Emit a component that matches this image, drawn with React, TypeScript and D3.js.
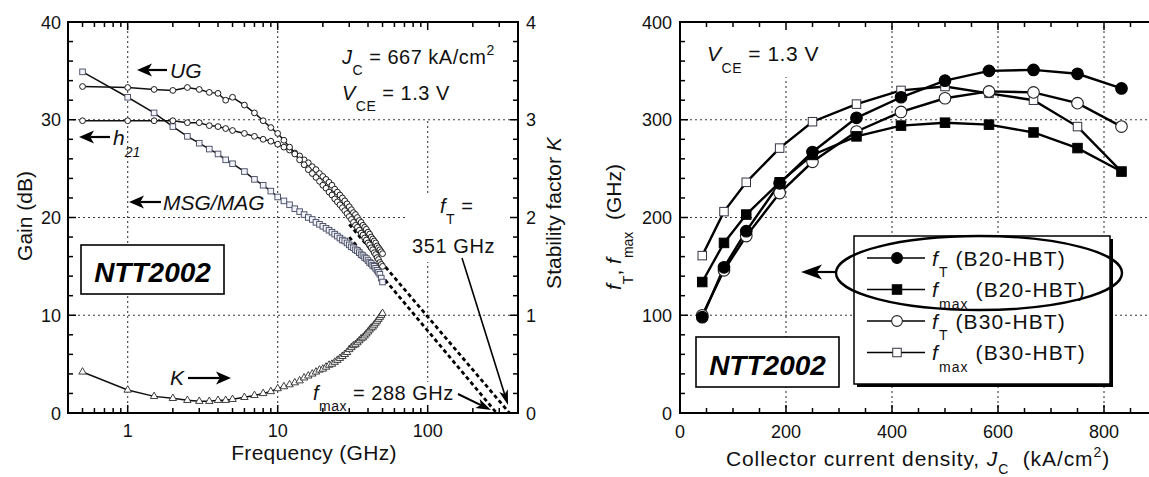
import React, { useEffect, useRef } from 'react';
import * as d3 from 'd3';

// ---------- Left panel data (frequency sweep) ----------
const freqGHz = [0.5, 1, 1.5, 2, 2.5, 3, 3.5, 4, 4.5,
  5, 6, 7, 8, 9, 10, 11, 12, 13, 14, 15, 16, 17, 18, 19, 20, 21, 22, 23, 24, 25, 26, 27, 28, 29, 30,
  31, 32, 33, 34, 35, 36, 37, 38, 39, 40, 41, 42, 43, 44, 45, 46, 47, 48, 49, 50];
const ugDb = [33.4, 33.3, 33.1, 33.0, 33.3, 33.1, 32.8, 32.7, 32.0,
  32.3, 31.5, 30.7, 29.9, 29.2, 28.6, 27.9, 27.2, 26.5, 25.9, 25.4, 24.9, 24.5, 24.1, 23.7, 23.3, 23.0, 22.6, 22.3, 21.9, 21.6, 21.3, 21.0, 20.7, 20.4, 20.1,
  19.8, 19.5, 19.2, 19.0, 18.7, 18.4, 18.2, 17.9, 17.7, 17.4, 17.2, 16.9, 16.7, 16.4, 16.2, 15.9, 15.7, 15.4, 15.2, 15.0];
const h21Db = [29.9, 29.9, 29.9, 29.9, 29.7, 29.7, 29.4, 29.3, 29.1,
  28.9, 28.6, 28.3, 28.0, 27.8, 27.5, 27.2, 26.9, 26.6, 26.3, 25.9, 25.6, 25.2, 24.9, 24.5, 24.2, 23.9, 23.6, 23.3, 22.9, 22.6, 22.3, 22.0, 21.7, 21.4, 21.1,
  20.8, 20.5, 20.3, 20.0, 19.7, 19.5, 19.2, 19.0, 18.8, 18.5, 18.3, 18.0, 17.8, 17.6, 17.4, 17.1, 16.9, 16.7, 16.5, 16.3];
const msgDb = [34.9, 32.3, 30.7, 29.3, 28.3, 27.6, 27.0, 26.5, 25.9,
  25.5, 24.7, 23.9, 23.3, 22.7, 22.1, 21.7, 21.3, 20.9, 20.6, 20.3, 20.0, 19.8, 19.5, 19.3, 19.1, 18.9, 18.7, 18.5, 18.3, 18.1, 17.9, 17.7, 17.6, 17.4, 17.2,
  17.0, 16.9, 16.7, 16.6, 16.4, 16.2, 16.1, 15.9, 15.8, 15.6, 15.4, 15.3, 15.1, 15.0, 14.8, 14.6, 14.4, 14.2, 13.8, 13.4];
const kFactor = [0.42, 0.235, 0.17, 0.15, 0.13, 0.12, 0.12, 0.13, 0.13,
  0.14, 0.16, 0.18, 0.20, 0.22, 0.25, 0.27, 0.29, 0.31, 0.33, 0.36, 0.38, 0.40, 0.42, 0.44, 0.45, 0.47, 0.49, 0.50, 0.52, 0.54, 0.56, 0.58, 0.60, 0.62, 0.65,
  0.67, 0.69, 0.70, 0.72, 0.74, 0.76, 0.77, 0.79, 0.81, 0.83, 0.85, 0.87, 0.88, 0.90, 0.92, 0.94, 0.96, 0.98, 1.00, 1.02];
// extrapolation lines: [start freq, start dB] -> [f, 0 dB]
const h21Extrap = [[30, 19.3], [351, 0]];
const ugExtrap = [[30, 18.0], [288, 0]];

const leftXTicks = [1, 10, 100];
const leftYTicks = [0, 10, 20, 30, 40];
const kTicks = [0, 1, 2, 3, 4];

// ---------- Right panel data ----------
const jc = [42, 83, 125, 188, 250, 333, 417, 500, 583, 667, 750, 833];
const ftB20 = [98, 149, 186, 235, 267, 302, 323, 340, 350, 351, 347, 332];
const fmaxB20 = [134, 174, 203, 236, 264, 283, 294, 297, 295, 287, 271, 247];
const ftB30 = [100, 146, 181, 225, 257, 288, 308, 322, 329, 328, 317, 293];
const fmaxB30 = [161, 206, 236, 271, 298, 316, 330, 334, 327, 320, 293, 247];
const rightXTicks = [0, 200, 400, 600, 800];
const rightYTicks = [0, 100, 200, 300, 400];

const FONT = "'Liberation Sans', Arial, Helvetica, sans-serif";

type Part = { t: string; i?: boolean; sub?: boolean; sup?: boolean };

function rich(sel: any, x: number, y: number, size: number, parts: Part[], anchor = 'start', rotate = 0, ls = 0, subOff = 0.55) {
  const t = sel.append('text')
    .attr('x', rotate ? 0 : x).attr('y', rotate ? 0 : y)
    .attr('font-size', size).attr('font-family', FONT)
    .attr('text-anchor', anchor).attr('fill', '#111')
    .style('white-space', 'pre');
  if (ls) t.attr('letter-spacing', ls);
  if (rotate) t.attr('transform', `translate(${x},${y}) rotate(${rotate})`);
  let cur = 0;
  parts.forEach((p) => {
    const off = p.sub ? size * subOff : p.sup ? -size * 0.45 : 0;
    const ts = t.append('tspan').text(p.t).attr('dy', off - cur);
    cur = off;
    if (p.sub || p.sup) ts.attr('font-size', Math.round(size * 0.68));
    if (p.i) ts.attr('font-style', 'italic');
  });
  return t;
}

function arrow(g: any, x1: number, y1: number, x2: number, y2: number, headLen = 13, headW = 11, sw = 2) {
  const a = Math.atan2(y2 - y1, x2 - x1);
  const c = Math.cos(a), s = Math.sin(a);
  const bx = x2 - headLen * c, by = y2 - headLen * s;
  const nx = x2 - headLen * 0.75 * c, ny = y2 - headLen * 0.75 * s;
  g.append('line').attr('x1', x1).attr('y1', y1).attr('x2', nx).attr('y2', ny)
    .attr('stroke', '#000').attr('stroke-width', sw);
  const px = -s * headW / 2, py = c * headW / 2;
  g.append('path')
    .attr('d', `M${x2},${y2}L${bx + px},${by + py}L${nx},${ny}L${bx - px},${by - py}Z`)
    .attr('fill', '#000');
}

function gridLine(g: any, x1: number, y1: number, x2: number, y2: number) {
  g.append('line').attr('x1', x1).attr('y1', y1).attr('x2', x2).attr('y2', y2)
    .attr('stroke', '#3a3a3a').attr('stroke-width', 1.1).attr('stroke-dasharray', '2,3');
}

function whiteBox(g: any, x: number, y: number, w: number, h: number) {
  g.append('rect').attr('x', x).attr('y', y).attr('width', w).attr('height', h).attr('fill', '#fff');
}

function draw(svg: any) {
  // ================= LEFT PANEL =================
  const xL = d3.scaleLog().domain([0.4, 400]).range([68, 518]);
  const yL = d3.scaleLinear().domain([0, 40]).range([413, 22]);
  const yK = d3.scaleLinear().domain([0, 4]).range([413, 22]);
  const gL = svg.append('g');

  leftXTicks.forEach((v) => gridLine(gL, xL(v), yL(0), xL(v), yL(40)));
  leftYTicks.filter((v) => v > 0 && v < 40).forEach((v) => gridLine(gL, xL(0.4), yL(v), xL(400), yL(v)));
  // text backgrounds interrupting grid
  whiteBox(gL, 335, 24, 181, 95);
  whiteBox(gL, 407, 196, 109, 66);
  whiteBox(gL, 300, 382, 172, 29);

  // extrapolation dashed lines
  const lineL = d3.line<number[]>().x((d) => xL(d[0])).y((d) => yL(d[1]));
  [h21Extrap, ugExtrap].forEach((ex) => {
    gL.append('path').attr('d', lineL(ex as any)).attr('fill', 'none')
      .attr('stroke', '#000').attr('stroke-width', 2.8).attr('stroke-dasharray', '4,3');
  });

  const seriesL = [
    { y: msgDb, scale: yL, marker: 'square' },
    { y: h21Db, scale: yL, marker: 'circle' },
    { y: ugDb, scale: yL, marker: 'circle' },
    { y: kFactor, scale: yK, marker: 'triangle' },
  ];
  seriesL.forEach((s) => {
    const pts = freqGHz.map((f, i) => [xL(f), s.scale(s.y[i])]);
    gL.append('path').attr('d', d3.line()(pts as any)).attr('fill', 'none')
      .attr('stroke', '#111').attr('stroke-width', 1.5);
    const gm = gL.append('g');
    pts.forEach(([x, y]) => {
      if (s.marker === 'circle') {
        gm.append('circle').attr('cx', x).attr('cy', y).attr('r', 2.9)
          .attr('fill', '#fff').attr('stroke', '#1a1a1a').attr('stroke-width', 1.0);
      } else if (s.marker === 'square') {
        gm.append('rect').attr('x', x - 2.8).attr('y', y - 2.8).attr('width', 5.6).attr('height', 5.6)
          .attr('fill', '#f4f4fb').attr('stroke', '#4a4f66').attr('stroke-width', 0.95);
      } else {
        gm.append('path').attr('d', d3.symbol(d3.symbolTriangle, 24)() as string)
          .attr('transform', `translate(${x},${y})`)
          .attr('fill', '#fff').attr('stroke', '#2a2a2a').attr('stroke-width', 0.9);
      }
    });
  });

  // NTT box (left)
  gL.append('rect').attr('x', 81).attr('y', 245).attr('width', 143).attr('height', 49)
    .attr('fill', '#fff').attr('stroke', '#000').attr('stroke-width', 1.6);
  gL.append('text').attr('x', 152.5).attr('y', 282).attr('text-anchor', 'middle')
    .attr('font-family', FONT).attr('font-weight', 'bold').attr('font-style', 'italic')
    .attr('font-size', 28).text('NTT2002');

  // frame and ticks
  gL.append('rect').attr('x', 68).attr('y', 22).attr('width', 450).attr('height', 391)
    .attr('fill', 'none').attr('stroke', '#000').attr('stroke-width', 2);
  const logTicks: number[] = [];
  [0.1, 1, 10, 100].forEach((dec) => {
    for (let d = 1; d <= 9; d++) {
      const v = +(d * dec).toPrecision(3);
      if (v >= 0.4 && v <= 400) logTicks.push(v);
    }
  });
  logTicks.forEach((v) => {
    const major = leftXTicks.includes(v);
    const len = major ? 8 : 5;
    const x = xL(v);
    gL.append('line').attr('x1', x).attr('x2', x).attr('y1', 413).attr('y2', 413 - len).attr('stroke', '#000').attr('stroke-width', 1.5);
    gL.append('line').attr('x1', x).attr('x2', x).attr('y1', 22).attr('y2', 22 + len).attr('stroke', '#000').attr('stroke-width', 1.5);
  });
  d3.range(0, 40.001, 2).forEach((v) => {
    const major = v % 10 === 0;
    const len = major ? 8 : 5;
    const y = yL(v);
    gL.append('line').attr('x1', 68).attr('x2', 68 + len).attr('y1', y).attr('y2', y).attr('stroke', '#000').attr('stroke-width', 1.5);
    gL.append('line').attr('x1', 518).attr('x2', 518 - len).attr('y1', y).attr('y2', y).attr('stroke', '#000').attr('stroke-width', 1.5);
  });
  leftYTicks.forEach((v) => {
    gL.append('text').attr('x', 61).attr('y', yL(v) + 6.5).attr('text-anchor', 'end')
      .attr('font-family', FONT).attr('font-size', 18).attr('fill', '#111').text(String(v));
  });
  kTicks.forEach((v) => {
    gL.append('text').attr('x', 526).attr('y', yK(v) + 6.5).attr('text-anchor', 'start')
      .attr('font-family', FONT).attr('font-size', 18).attr('fill', '#111').text(String(v));
  });
  leftXTicks.forEach((v) => {
    gL.append('text').attr('x', xL(v)).attr('y', 437).attr('text-anchor', 'middle')
      .attr('font-family', FONT).attr('font-size', 18).attr('fill', '#111').text(String(v));
  });
  rich(gL, 314, 460, 21, [{ t: 'Frequency (GHz)' }], 'middle', 0, 0.3);
  rich(gL, 32, 216, 21, [{ t: 'Gain (dB)' }], 'middle', -90);
  rich(gL, 561, 213, 21, [{ t: 'Stability factor ' }, { t: 'K', i: true }], 'middle', -90);

  // annotations
  rich(gL, 342, 64, 20, [{ t: 'J', i: true }, { t: 'C', sub: true }, { t: ' = 667 kA/cm' }, { t: '2', sup: true }], 'start', 0, 0.5);
  rich(gL, 342, 100, 20, [{ t: 'V', i: true }, { t: 'CE', sub: true }, { t: ' = 1.3 V' }], 'start', 0, 0.5);
  rich(gL, 440, 213, 20, [{ t: 'f', i: true }, { t: 'T', sub: true }, { t: ' =' }], 'start', 0, 0.5);
  rich(gL, 412, 253, 20, [{ t: '351 GHz' }], 'start', 0, 0.6);
  rich(gL, 313, 400, 20, [{ t: 'f', i: true }, { t: 'max', sub: true }, { t: ' = 288 GHz' }], 'start', 0, 0.5);
  arrow(gL, 462, 258, 508, 405, 15, 9, 1.6);
  arrow(gL, 458, 394, 491, 410, 15, 10, 2);

  rich(gL, 170, 78, 21, [{ t: 'UG', i: true }]);
  arrow(gL, 167, 70, 137, 70, 15, 13, 2.2);
  rich(gL, 113, 145, 21, [{ t: 'h', i: true }, { t: '21', sub: true, i: true }]);
  arrow(gL, 110, 137, 79, 137, 15, 13, 2.2);
  rich(gL, 163, 210, 21, [{ t: 'MSG/MAG', i: true }]);
  arrow(gL, 161, 202, 129, 202, 15, 13, 2.2);
  rich(gL, 170, 385, 21, [{ t: 'K', i: true }]);
  arrow(gL, 188, 378, 231, 378, 15, 13, 2.2);

  // ================= RIGHT PANEL =================
  const xR = d3.scaleLinear().domain([0, 900]).range([680, 1157]);
  const yR = d3.scaleLinear().domain([0, 400]).range([413, 22]);
  const gR = svg.append('g');

  rightXTicks.filter((v) => v > 0).forEach((v) => gridLine(gR, xR(v), yR(0), xR(v), yR(400)));
  rightYTicks.filter((v) => v > 0 && v < 400).forEach((v) => gridLine(gR, xR(0), yR(v), xR(900), yR(v)));
  whiteBox(gR, 700, 24, 150, 53);

  // NTT box (right)
  gR.append('rect').attr('x', 696).attr('y', 337).attr('width', 143).attr('height', 50)
    .attr('fill', '#fff').attr('stroke', '#000').attr('stroke-width', 1.6);
  gR.append('text').attr('x', 767.5).attr('y', 375).attr('text-anchor', 'middle')
    .attr('font-family', FONT).attr('font-weight', 'bold').attr('font-style', 'italic')
    .attr('font-size', 28).text('NTT2002');

  const seriesR = [
    { y: fmaxB30, m: 'square', fill: '#fff' },
    { y: ftB30, m: 'circle', fill: '#fff' },
    { y: fmaxB20, m: 'square', fill: '#000' },
    { y: ftB20, m: 'circle', fill: '#000' },
  ];
  const drawMarker = (g: any, m: string, fill: string, x: number, y: number, big = true) => {
    if (m === 'circle') {
      g.append('circle').attr('cx', x).attr('cy', y).attr('r', big ? 5.8 : 5.4)
        .attr('fill', fill).attr('stroke', fill === '#000' ? '#000' : '#222').attr('stroke-width', 1.1);
    } else {
      const s = fill === '#000' ? 9.5 : 8.5;
      g.append('rect').attr('x', x - s / 2).attr('y', y - s / 2).attr('width', s).attr('height', s)
        .attr('fill', fill).attr('stroke', fill === '#000' ? '#000' : '#334').attr('stroke-width', 1);
    }
  };
  seriesR.forEach((s) => {
    const pts = jc.map((j, i) => [xR(j), yR(s.y[i])]);
    gR.append('path').attr('d', d3.line()(pts as any)).attr('fill', 'none')
      .attr('stroke', '#000').attr('stroke-width', 2.4);
  });
  seriesR.forEach((s) => {
    jc.forEach((j, i) => drawMarker(gR, s.m, s.fill, xR(j), yR(s.y[i])));
  });

  // legend
  gR.append('rect').attr('x', 857).attr('y', 239).attr('width', 256).attr('height', 148).attr('fill', '#000');
  gR.append('rect').attr('x', 854).attr('y', 236).attr('width', 256).attr('height', 148)
    .attr('fill', '#fff').attr('stroke', '#000').attr('stroke-width', 1.5);
  const legendRows = [
    { m: 'circle', fill: '#000', sub: 'T', name: ' (B20-HBT)' },
    { m: 'square', fill: '#000', sub: 'max', name: ' (B20-HBT)' },
    { m: 'circle', fill: '#fff', sub: 'T', name: ' (B30-HBT)' },
    { m: 'square', fill: '#fff', sub: 'max', name: ' (B30-HBT)' },
  ];
  legendRows.forEach((r, i) => {
    const y = 258 + i * 31.5;
    gR.append('line').attr('x1', 867).attr('x2', 925).attr('y1', y).attr('y2', y)
      .attr('stroke', '#000').attr('stroke-width', 1.6);
    drawMarker(gR, r.m, r.fill, 897, y, false);
    rich(gR, 932, y + 7.5, 21, [{ t: 'f', i: true }, { t: r.sub, sub: true }, { t: r.name }], 'start', 0, 1.1);
  });
  gR.append('ellipse').attr('cx', 979).attr('cy', 273).attr('rx', 143).attr('ry', 37)
    .attr('fill', 'none').attr('stroke', '#000').attr('stroke-width', 2.4);
  arrow(gR, 837, 272, 801, 272, 21, 15, 2.2);

  // frame and ticks
  gR.append('rect').attr('x', 680).attr('y', 22).attr('width', 477).attr('height', 391)
    .attr('fill', 'none').attr('stroke', '#000').attr('stroke-width', 2);
  d3.range(0, 900.001, 50).forEach((v) => {
    const len = v % 200 === 0 ? 8 : 5;
    const x = xR(v);
    gR.append('line').attr('x1', x).attr('x2', x).attr('y1', 413).attr('y2', 413 - len).attr('stroke', '#000').attr('stroke-width', 1.5);
    gR.append('line').attr('x1', x).attr('x2', x).attr('y1', 22).attr('y2', 22 + len).attr('stroke', '#000').attr('stroke-width', 1.5);
  });
  d3.range(0, 400.001, 20).forEach((v) => {
    const len = v % 100 === 0 ? 8 : 5;
    const y = yR(v);
    gR.append('line').attr('x1', 680).attr('x2', 680 + len).attr('y1', y).attr('y2', y).attr('stroke', '#000').attr('stroke-width', 1.5);
  });
  rightYTicks.forEach((v) => {
    gR.append('text').attr('x', 672).attr('y', yR(v) + 6.5).attr('text-anchor', 'end')
      .attr('font-family', FONT).attr('font-size', 18).attr('fill', '#111').text(String(v));
  });
  rightXTicks.forEach((v) => {
    gR.append('text').attr('x', xR(v)).attr('y', 438).attr('text-anchor', 'middle')
      .attr('font-family', FONT).attr('font-size', 18).attr('fill', '#111').text(String(v));
  });
  rich(gR, 707, 61, 21, [{ t: 'V', i: true }, { t: 'CE', sub: true }, { t: ' = 1.3 V' }], 'start', 0, 0.5);
  rich(gR, 918, 466, 21, [{ t: 'Collector current density, ' }, { t: 'J', i: true }, { t: 'C', sub: true }, { t: '  (kA/cm' }, { t: '2', sup: true }, { t: ')' }], 'middle', 0, 0.9, 0.4);
  rich(gR, 621, 227, 21, [{ t: 'f', i: true }, { t: 'T', sub: true }, { t: ', ' }, { t: 'f', i: true }, { t: 'max', sub: true }, { t: '  (GHz)' }], 'middle', -90);
}

export default function App() {
  const ref = useRef<SVGSVGElement>(null);
  useEffect(() => {
    const svg = d3.select(ref.current);
    svg.selectAll('*').remove();
    draw(svg);
  }, []);
  return (
    <svg ref={ref} width={1149} height={477}
      style={{ position: 'absolute', left: 0, top: 0, background: '#fff', display: 'block' }} />
  );
}
